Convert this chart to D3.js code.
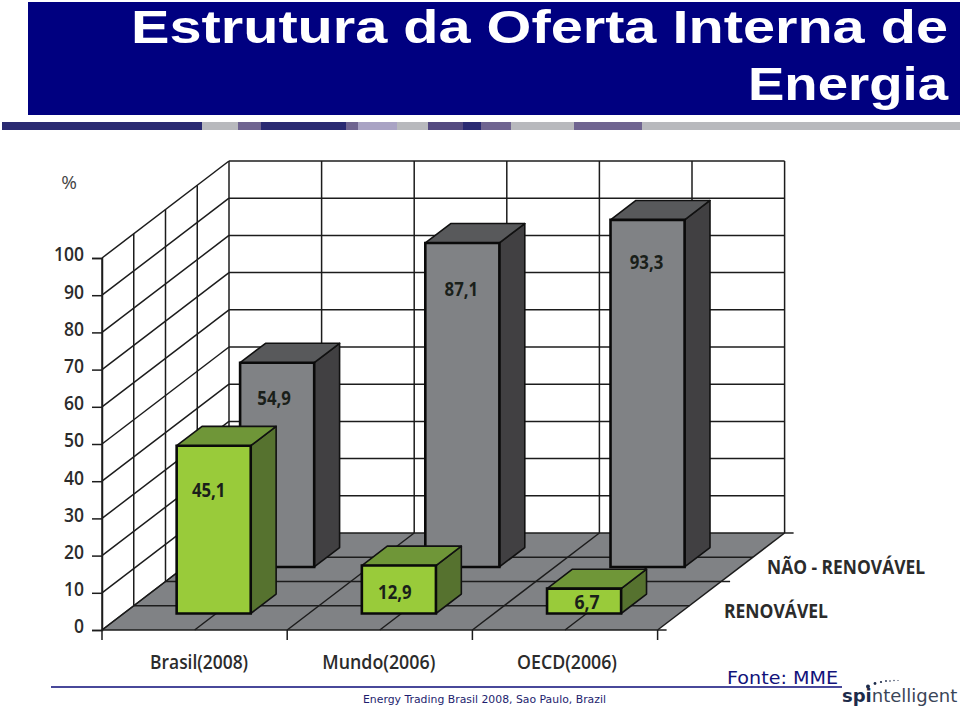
<!DOCTYPE html>
<html><head><meta charset="utf-8">
<script src="https://cdn.jsdelivr.net/npm/d3@7/dist/d3.min.js"></script>
<style>html,body{margin:0;padding:0;background:#fff;overflow:hidden}svg{display:block}</style>
</head><body><svg id="c" width="960" height="710"></svg>
<script>
const categories = ["Brasil(2008)", "Mundo(2006)", "OECD(2006)"];
const naoRenovavel = [54.9, 87.1, 93.3];
const renovavel = [45.1, 12.9, 6.7];
const yTicks = [0,10,20,30,40,50,60,70,80,90,100];
const seriesNames = ["NÃO - RENOVÁVEL", "RENOVÁVEL"];
const titleLines = ["Estrutura da Oferta Interna de", "Energia"];
const fmt = v => String(v.toFixed(1)).replace(".", ",");

const svg = d3.select("#c");
const INK = "#1c1c1c", LABEL = "#2b2b2b", FACE = "Open Sans";
const x = d3.scaleBand().domain(categories).range([102, 657.6]);
const y = d3.scaleLinear().domain([0, 100]).range([630, 258]);
const edge = d3.scaleLinear().domain([0, 6]).range([102, 657.6]);
const DX = 127, DY = 97;
const P = (px, v, d) => [px + DX * d, y(v) - DY * d];
const poly = pts => "M" + pts.map(p => p.join(",")).join("L") + "Z";
const seg = (g, a, b, w = 1.5) => g.append("line").attr("x1", a[0]).attr("y1", a[1]).attr("x2", b[0]).attr("y2", b[1]).attr("stroke", INK).attr("stroke-width", w);

// header
svg.append("rect").attr("x", 28).attr("y", 2).attr("width", 932).attr("height", 113).attr("fill", "#000080");
const titleW = [817, 200], titleX = [948, 948], titleY = [43, 100];
titleLines.forEach((t, i) => svg.append("text").text(t).attr("x", titleX[i]).attr("y", titleY[i]).attr("text-anchor", "end")
  .attr("font-family", "Liberation Sans").attr("font-weight", "bold").attr("font-size", 47).attr("fill", "#fff")
  .attr("textLength", titleW[i]).attr("lengthAdjust", "spacingAndGlyphs"));
const strip = [[2,202,"#2a2a72"],[202,238,"#b8b9bd"],[238,261,"#6f6490"],[261,346,"#2a2a72"],[346,358,"#6f6490"],[358,397,"#a9a3c4"],[397,428,"#b8b9bd"],[428,463,"#544a80"],[463,481,"#2a2a72"],[481,511,"#6f6490"],[511,574,"#b8b9bd"],[574,642,"#6f6490"],[642,960,"#b8b9bd"]];
svg.selectAll("rect.s").data(strip).join("rect").attr("class", "s").attr("x", d => d[0]).attr("y", 122).attr("width", d => d[1] - d[0]).attr("height", 8).attr("fill", d => d[2]);

// floor
svg.append("path").attr("d", poly([P(edge(0),0,0), P(edge(6),0,0), P(edge(6),0,1), P(edge(0),0,1)])).attr("fill", "#808285");

const grid = svg.append("g");
yTicks.forEach(v => {
  seg(grid, P(edge(0), v, 0), P(edge(0), v, 1));
  seg(grid, P(edge(0), v, 1), P(edge(6), v, 1));
});
d3.range(0, 7).forEach(i => {
  seg(grid, P(edge(i), 0, 1), P(edge(i), 100, 1));
  seg(grid, P(edge(i), 0, 0), P(edge(i), 0, 1));
});
[0, .25, .5, .75].forEach(d => {
  seg(grid, P(edge(0), 0, d), P(edge(0), 100, d));
  seg(grid, P(edge(0), 0, d), P(edge(6), 0, d));
});
[0, .5, 1].forEach(d => { const a = P(edge(6), 0, d); seg(grid, a, [a[0] + 9, a[1]]); });
[0, 2, 4, 6].forEach(i => seg(grid, [edge(i), 630], [edge(i), 640]));

// axes
const axisText = s => s.selectAll("text").attr("font-family", FACE).attr("font-weight", 600).attr("fill", LABEL);
const ya = svg.append("g").attr("transform", `translate(${edge(0)},0)`).call(d3.axisLeft(y).tickValues(yTicks).tickSize(10).tickPadding(8));
ya.select(".domain").attr("stroke", INK).attr("stroke-width", 1.5);
ya.selectAll("line").attr("stroke", INK).attr("stroke-width", 1.5);
axisText(ya);
ya.selectAll("text").attr("font-size", 20).attr("dy", "0.14em").attr("textLength", d => String(d).length * 10).attr("lengthAdjust", "spacingAndGlyphs");
const xa = svg.append("g").attr("transform", "translate(0,630)").call(d3.axisBottom(x).tickSize(0).tickPadding(25));
xa.select(".domain").remove();
axisText(xa);
xa.selectAll("text").attr("font-size", 20).attr("dx", (d, i) => [4.5, -1, 2][i]).attr("textLength", (d, i) => [98, 113, 100][i]).attr("lengthAdjust", "spacingAndGlyphs");
svg.append("text").text("%").attr("x", 69).attr("y", 189).attr("text-anchor", "middle").attr("font-family", FACE).attr("font-size", 19).attr("fill", "#444");

// bars
const BAR = 0.4 * x.bandwidth(), THICK = 0.2;
function bars(vals, d0, shift, colors, nudge) {
  const g = svg.append("g");
  vals.forEach((v, i) => {
    const cx = x(categories[i]) + x.bandwidth() / 2 + shift;
    const L = cx - BAR / 2, R = cx + BAR / 2, d1 = d0 + THICK;
    const side = [P(R,0,d0), P(R,0,d1), P(R,v,d1), P(R,v,d0)];
    const top = [P(L,v,d0), P(R,v,d0), P(R,v,d1), P(L,v,d1)];
    const front = [P(L,0,d0), P(R,0,d0), P(R,v,d0), P(L,v,d0)];
    g.append("path").attr("d", poly(side)).attr("fill", colors.side).attr("stroke", "#111").attr("stroke-width", 1.6).attr("stroke-linejoin", "round");
    g.append("path").attr("d", poly(top)).attr("fill", colors.top).attr("stroke", "#111").attr("stroke-width", 1.6).attr("stroke-linejoin", "round");
    g.append("path").attr("d", poly(front)).attr("fill", colors.front).attr("stroke", "#0a0a0a").attr("stroke-width", 2.6);
    const fTop = P(L,v,d0)[1], fBot = P(L,0,d0)[1];
    const ty = (fBot - fTop) < 60 ? (fTop + fBot) / 2 : fTop + 43;
    const lbl = fmt(v);
    g.append("text").text(lbl).attr("x", cx + DX * d0 + nudge[i][0]).attr("y", ty + nudge[i][1]).attr("dy", "0.36em")
      .attr("text-anchor", "middle").attr("font-family", FACE).attr("font-weight", 700).attr("font-size", 20).attr("fill", "#1a1f1a")
      .attr("textLength", lbl.length * 8.4).attr("lengthAdjust", "spacingAndGlyphs");
  });
}
bars(naoRenovavel, 0.65, 0, {front:"#808285", top:"#58595b", side:"#414042"}, [[-3,-8],[-1,3],[-1,-1]]);
bars(renovavel, 0.17, -2.5, {front:"#99cb3a", top:"#6f9638", side:"#56722f"}, [[-5,1],[-4,2],[3,1]]);

// series labels
const seriesX = [767, 724], seriesY = [574, 618], seriesW = [158, 104];
seriesNames.forEach((t, i) => svg.append("text").text(t).attr("x", seriesX[i]).attr("y", seriesY[i])
  .attr("font-family", FACE).attr("font-weight", 700).attr("font-size", 19.5).attr("fill", LABEL)
  .attr("textLength", seriesW[i]).attr("lengthAdjust", "spacingAndGlyphs"));

// footer
svg.append("line").attr("x1", 51).attr("x2", 842).attr("y1", 687).attr("y2", 687).attr("stroke", "#0b0b78").attr("stroke-width", 1.6);
svg.append("text").text("Energy Trading Brasil 2008, Sao Paulo, Brazil").attr("x", 363).attr("y", 703)
  .attr("font-family", "DejaVu Sans").attr("font-size", 11).attr("fill", "#1d1d6e").attr("textLength", 243).attr("lengthAdjust", "spacingAndGlyphs");
svg.append("text").text("Fonte: MME").attr("x", 727).attr("y", 684)
  .attr("font-family", "DejaVu Sans").attr("font-size", 17).attr("fill", "#12127a").attr("textLength", 111).attr("lengthAdjust", "spacingAndGlyphs");

// logo
const logo = svg.append("text").attr("x", 842).attr("y", 702).attr("font-family", "DejaVu Sans").attr("font-size", 18);
logo.append("tspan").text("spi").attr("font-weight", "bold").attr("fill", "#1d2b4a");
logo.append("tspan").text("ntelligent").attr("fill", "#3a4658");
[[868,686.5,2],[875,683.5,1.4],[881,682,1.1],[886,681,.9],[890,681,.8],[894,680.5,.7],[898,680.5,.6]].forEach(c =>
  svg.append("circle").attr("cx", c[0]).attr("cy", c[1]).attr("r", c[2]).attr("fill", "#1d2b4a"));
</script></body></html>
